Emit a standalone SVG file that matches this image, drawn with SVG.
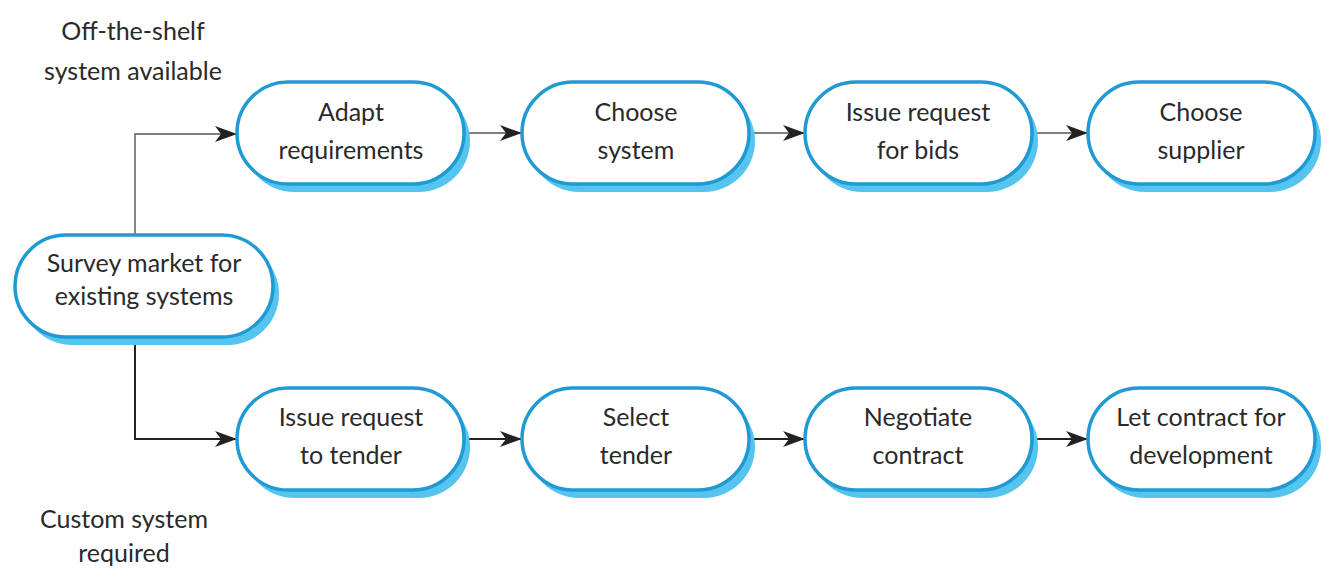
<svg xmlns="http://www.w3.org/2000/svg" width="1327" height="571" viewBox="0 0 1327 571">
  <defs>
    <marker id="arrow" viewBox="0 0 22 16" refX="22" refY="8" markerWidth="22" markerHeight="16" markerUnits="userSpaceOnUse" orient="auto">
      <path d="M0,0 L22,8 L0,16 L6,8 Z" fill="#222"/>
    </marker>
    <style>
      .shadow { fill: #55c4ee; }
      .box { fill: #ffffff; stroke: #1f9ad4; stroke-width: 3.5; }
      .label { font-family: Lato, "Liberation Sans", sans-serif; font-size: 25px; fill: #2a2a2a; text-anchor: middle; }
      .edge { fill: none; stroke: #555; stroke-width: 1.4; }
      .edge.strong { stroke: #222; stroke-width: 2; }
    </style>
  </defs>
  <rect width="1327" height="571" fill="#ffffff"/>

  <!-- branch captions -->
  <text class="label" x="133" y="40">Off-the-shelf</text>
  <text class="label" x="133" y="80">system available</text>
  <text class="label" x="124" y="528">Custom system</text>
  <text class="label" x="124" y="562">required</text>

  <!-- connectors -->
  <g id="connectors">
    <path class="edge" d="M135,235 V134 H237" marker-end="url(#arrow)"/>
    <path class="edge strong" d="M135,337 V439 H237" marker-end="url(#arrow)"/>
    <path class="edge" d="M464,133 H522" marker-end="url(#arrow)"/>
    <path class="edge" d="M749,133 H805" marker-end="url(#arrow)"/>
    <path class="edge" d="M1032,133 H1088" marker-end="url(#arrow)"/>
    <path class="edge strong" d="M464,439 H522" marker-end="url(#arrow)"/>
    <path class="edge strong" d="M749,439 H805" marker-end="url(#arrow)"/>
    <path class="edge strong" d="M1032,439 H1088" marker-end="url(#arrow)"/>
  </g>

  <g id="survey">
    <rect class="shadow" x="21" y="243" width="258" height="102" rx="51"/>
    <rect class="box" x="15" y="235" width="258" height="102" rx="51"/>
    <text class="label" x="144" y="272">Survey market for</text>
    <text class="label" x="144" y="305">existing systems</text>
  </g>

  <g id="adapt">
    <rect class="shadow" x="243" y="90" width="227" height="102" rx="51"/>
    <rect class="box" x="237" y="82" width="227" height="102" rx="51"/>
    <text class="label" x="351" y="121">Adapt</text>
    <text class="label" x="351" y="159">requirements</text>
  </g>
  <g id="choose-system">
    <rect class="shadow" x="528" y="90" width="227" height="102" rx="51"/>
    <rect class="box" x="522" y="82" width="227" height="102" rx="51"/>
    <text class="label" x="636" y="121">Choose</text>
    <text class="label" x="636" y="159">system</text>
  </g>
  <g id="issue-bids">
    <rect class="shadow" x="811" y="90" width="227" height="102" rx="51"/>
    <rect class="box" x="805" y="82" width="227" height="102" rx="51"/>
    <text class="label" x="918" y="121">Issue request</text>
    <text class="label" x="918" y="159">for bids</text>
  </g>
  <g id="choose-supplier">
    <rect class="shadow" x="1094" y="90" width="227" height="102" rx="51"/>
    <rect class="box" x="1088" y="82" width="227" height="102" rx="51"/>
    <text class="label" x="1201" y="121">Choose</text>
    <text class="label" x="1201" y="159">supplier</text>
  </g>

  <g id="issue-tender">
    <rect class="shadow" x="243" y="396" width="227" height="102" rx="51"/>
    <rect class="box" x="237" y="388" width="227" height="102" rx="51"/>
    <text class="label" x="351" y="426">Issue request</text>
    <text class="label" x="351" y="464">to tender</text>
  </g>
  <g id="select-tender">
    <rect class="shadow" x="528" y="396" width="227" height="102" rx="51"/>
    <rect class="box" x="522" y="388" width="227" height="102" rx="51"/>
    <text class="label" x="636" y="426">Select</text>
    <text class="label" x="636" y="464">tender</text>
  </g>
  <g id="negotiate">
    <rect class="shadow" x="811" y="396" width="227" height="102" rx="51"/>
    <rect class="box" x="805" y="388" width="227" height="102" rx="51"/>
    <text class="label" x="918" y="426">Negotiate</text>
    <text class="label" x="918" y="464">contract</text>
  </g>
  <g id="let-contract">
    <rect class="shadow" x="1094" y="396" width="227" height="102" rx="51"/>
    <rect class="box" x="1088" y="388" width="227" height="102" rx="51"/>
    <text class="label" x="1201" y="426">Let contract for</text>
    <text class="label" x="1201" y="464">development</text>
  </g>
</svg>
